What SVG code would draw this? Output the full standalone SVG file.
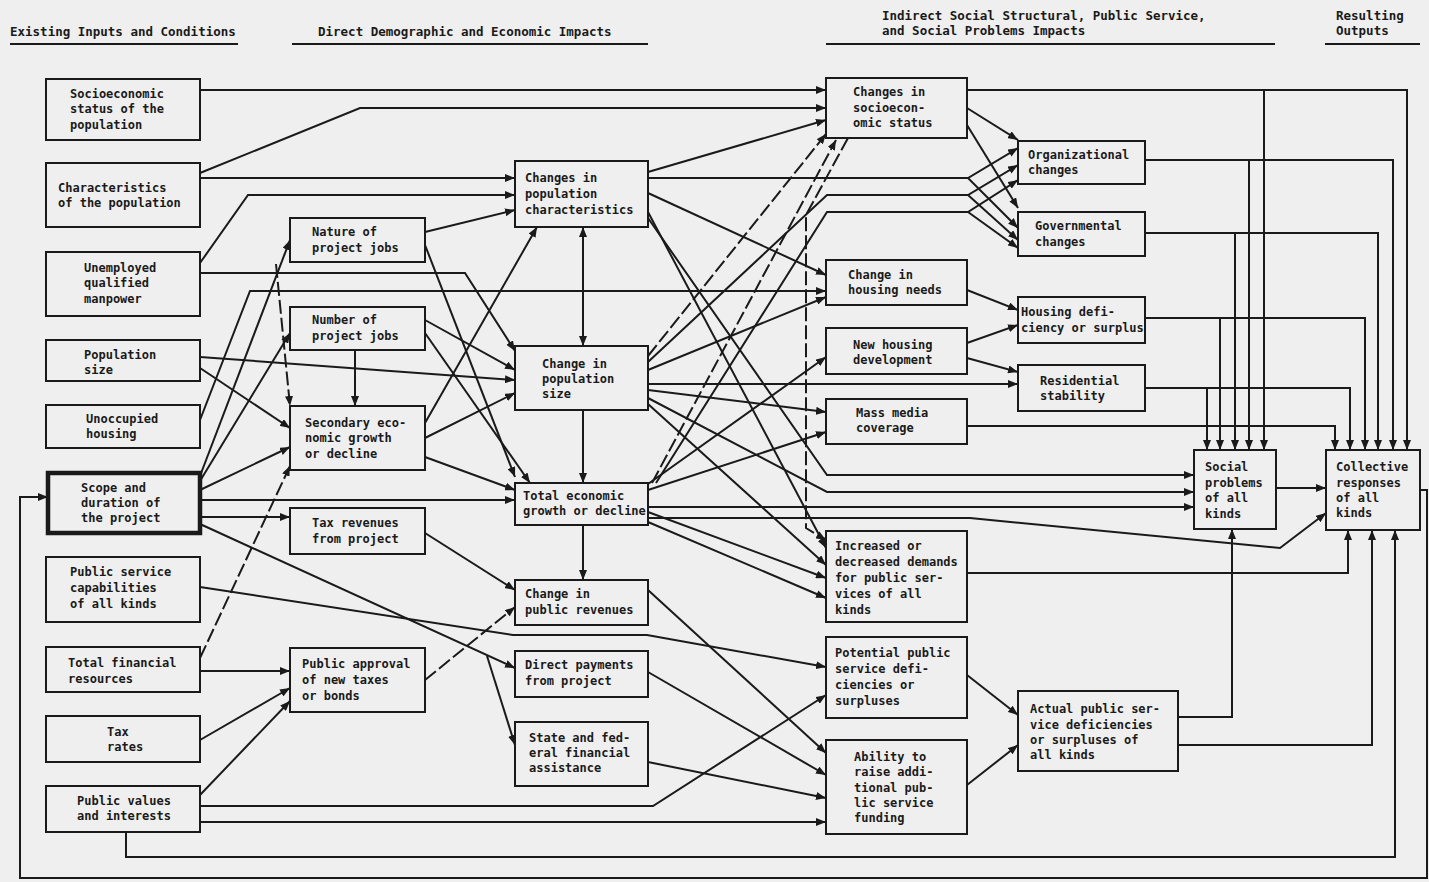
<svg xmlns="http://www.w3.org/2000/svg" width="1429" height="882" viewBox="0 0 1429 882">
<defs>
<marker id="a" viewBox="0 0 10 8" refX="10" refY="4" markerWidth="10" markerHeight="8" markerUnits="userSpaceOnUse" orient="auto-start-reverse"><path d="M0,0 L10,4 L0,8 z" fill="#1a1a1a"/></marker>
<style>
.bg{fill:#efefef}
.box rect{fill:#efefef;stroke:#1a1a1a;stroke-width:2}
.thick rect{stroke-width:4.5}
text{font-family:"DejaVu Sans Mono","Liberation Mono",monospace;font-weight:bold;font-size:12px;fill:#1a1a1a}
.hd{font-size:12.5px}
#connectors path{fill:none;stroke:#1a1a1a;stroke-width:2}
#connectors .ar{marker-end:url(#a)}
#connectors .bi{marker-end:url(#a);marker-start:url(#a)}
#connectors .d{stroke-dasharray:14 4}
.ul{stroke:#1a1a1a;stroke-width:2}
</style>
</defs>
<rect class="bg" x="0" y="0" width="1429" height="882"/>

<g id="headers">
<text class="hd" x="10" y="36">Existing Inputs and Conditions</text>
<line class="ul" x1="10" y1="44" x2="238" y2="44"/>
<text class="hd" x="318" y="36">Direct Demographic and Economic Impacts</text>
<line class="ul" x1="292" y1="44" x2="648" y2="44"/>
<text class="hd"><tspan x="882" y="20">Indirect Social Structural, Public Service,</tspan><tspan x="882" y="35">and Social Problems Impacts</tspan></text>
<line class="ul" x1="826" y1="44" x2="1275" y2="44"/>
<text class="hd"><tspan x="1336" y="20">Resulting</tspan><tspan x="1336" y="35">Outputs</tspan></text>
<line class="ul" x1="1325" y1="44" x2="1420" y2="44"/>
</g>

<g id="connectors">
<path class="ar" d="M200,90 H826"/>
<path class="ar" d="M200,173 L360,108 H826"/>
<path class="ar" d="M200,178 H515"/>
<path class="ar" d="M200,263 L248,195 H515"/>
<path class="ar" d="M200,273 H465 L515,351"/>
<path class="ar" d="M200,420 L250,291 H826"/>
<path class="ar" d="M200,357 L515,380"/>
<path class="ar" d="M200,368 L290,428"/>
<path class="ar" d="M200,476 L290,240"/>
<path class="ar" d="M200,481 L290,333"/>
<path class="ar" d="M200,490 L290,447"/>
<path class="ar" d="M200,500 H515"/>
<path class="ar" d="M200,517 H290"/>
<path class="ar" d="M200,524 L515,668"/>
<path class="ar" d="M487,656 L515,745"/>
<path class="ar" d="M200,587 L513,635 H647 L826,667"/>
<path class="ar" d="M200,671 H290"/>
<path class="ar d" d="M200,658 L290,466"/>
<path class="ar" d="M200,740 L290,688"/>
<path class="ar" d="M200,795 L290,701"/>
<path class="ar" d="M200,806 H653 L826,695"/>
<path class="ar" d="M200,822 H826"/>
<path class="ar" d="M126,832 V857 H1395 V530"/>
<path class="ar" d="M425,232 L515,210"/>
<path class="ar" d="M425,245 L515,477"/>
<path class="ar" d="M425,320 L515,370"/>
<path class="ar" d="M425,333 L530,483"/>
<path class="ar" d="M355,350 V406"/>
<path class="ar" d="M425,423 L537,227"/>
<path class="ar" d="M425,438 L515,393"/>
<path class="ar" d="M425,457 L515,490"/>
<path class="ar" d="M425,533 L515,590"/>
<path class="ar d" d="M425,680 L515,607"/>
<path class="ar d" d="M276,264 L290,406"/>
<path class="bi" d="M583,346 V227"/>
<path class="ar" d="M583,410 V483"/>
<path class="ar" d="M583,525 V580"/>
<path class="ar" d="M648,172 L826,120"/>
<path class="ar" d="M648,178 H968 L1018,148"/>
<path class="ar" d="M968,178 L1018,228"/>
<path class="ar" d="M648,193 L826,275"/>
<path class="ar" d="M648,212 L826,548"/>
<path class="ar" d="M648,218 L827,475 H1194"/>
<path class="ar" d="M648,398 L827,492 H1194"/>
<path class="ar" d="M648,507 H1194"/>
<path class="ar" d="M648,518 H970 L1280,548 L1326,513"/>
<path class="ar" d="M648,384 H1018"/>
<path class="ar" d="M648,370 L826,297"/>
<path class="ar" d="M648,390 L826,412"/>
<path class="ar" d="M648,362 L827,195 H968 L1018,165"/>
<path class="ar" d="M968,195 L1018,240"/>
<path class="ar d" d="M648,356 L826,134"/>
<path class="ar" d="M648,404 L826,565"/>
<path class="ar" d="M648,490 L826,432"/>
<path class="ar" d="M648,484 L826,357"/>
<path class="ar d" d="M652,483 L836,140"/>
<path class="ar" d="M656,483 L827,212 H968 L1018,180"/>
<path class="ar" d="M968,212 L1018,248"/>
<path class="ar d" d="M848,138 L806,215 V528 L826,540"/>
<path class="ar" d="M648,512 L826,578"/>
<path class="ar" d="M648,522 L826,598"/>
<path class="ar" d="M648,590 L826,753"/>
<path class="ar" d="M648,672 L826,775"/>
<path class="ar" d="M648,762 L826,798"/>
<path class="ar" d="M967,90 H1407 V450"/>
<path class="ar" d="M1264,90 V450"/>
<path class="ar" d="M967,108 L1018,140"/>
<path class="ar" d="M967,125 L1018,208"/>
<path class="ar" d="M1145,160 H1393 V450"/>
<path class="ar" d="M1249,160 V450"/>
<path class="ar" d="M1145,233 H1378 V450"/>
<path class="ar" d="M1235,233 V450"/>
<path class="ar" d="M1145,318 H1365 V450"/>
<path class="ar" d="M1220,318 V450"/>
<path class="ar" d="M1145,388 H1350 V450"/>
<path class="ar" d="M1207,388 V450"/>
<path class="ar" d="M967,426 H1335 V450"/>
<path class="ar" d="M1276,488 H1326"/>
<path class="ar" d="M967,343 L1018,325"/>
<path class="ar" d="M967,358 L1018,372"/>
<path class="ar" d="M967,290 L1018,310"/>
<path class="ar" d="M967,675 L1018,715"/>
<path class="ar" d="M967,785 L1018,745"/>
<path class="ar" d="M1178,717 H1232 V529"/>
<path class="ar" d="M1178,745 H1372 V530"/>
<path class="ar" d="M967,573 H1348 V530"/>
<path class="ar" d="M1420,490 H1427 V878 H20 V497 H48"/>
</g>

<g id="n-socio" class="box"><rect x="46" y="79" width="154" height="61"/><text><tspan x="70" y="98">Socioeconomic</tspan><tspan x="70" y="113">status of the</tspan><tspan x="70" y="129">population</tspan></text></g>
<g id="n-char" class="box"><rect x="46" y="163" width="154" height="64"/><text><tspan x="58" y="192">Characteristics</tspan><tspan x="58" y="207">of the population</tspan></text></g>
<g id="n-unemp" class="box"><rect x="46" y="252" width="154" height="64"/><text><tspan x="84" y="272">Unemployed</tspan><tspan x="84" y="287">qualified</tspan><tspan x="84" y="303">manpower</tspan></text></g>
<g id="n-popsize" class="box"><rect x="46" y="340" width="154" height="41"/><text><tspan x="84" y="359">Population</tspan><tspan x="84" y="374">size</tspan></text></g>
<g id="n-unocc" class="box"><rect x="46" y="405" width="154" height="43"/><text><tspan x="86" y="423">Unoccupied</tspan><tspan x="86" y="438">housing</tspan></text></g>
<g id="n-scope" class="box thick"><rect x="48" y="473" width="152" height="60"/><text><tspan x="81" y="492">Scope and</tspan><tspan x="81" y="507">duration of</tspan><tspan x="81" y="522">the project</tspan></text></g>
<g id="n-pscap" class="box"><rect x="46" y="557" width="154" height="65"/><text><tspan x="70" y="576">Public service</tspan><tspan x="70" y="592">capabilities</tspan><tspan x="70" y="608">of all kinds</tspan></text></g>
<g id="n-fin" class="box"><rect x="46" y="647" width="154" height="45"/><text><tspan x="68" y="667">Total financial</tspan><tspan x="68" y="683">resources</tspan></text></g>
<g id="n-tax" class="box"><rect x="46" y="716" width="154" height="46"/><text><tspan x="107" y="736">Tax</tspan><tspan x="107" y="751">rates</tspan></text></g>
<g id="n-values" class="box"><rect x="46" y="786" width="154" height="46"/><text><tspan x="77" y="805">Public values</tspan><tspan x="77" y="820">and interests</tspan></text></g>

<g id="n-nature" class="box"><rect x="290" y="218" width="135" height="44"/><text><tspan x="312" y="236">Nature of</tspan><tspan x="312" y="252">project jobs</tspan></text></g>
<g id="n-number" class="box"><rect x="290" y="307" width="135" height="43"/><text><tspan x="312" y="324">Number of</tspan><tspan x="312" y="340">project jobs</tspan></text></g>
<g id="n-secondary" class="box"><rect x="290" y="406" width="135" height="64"/><text><tspan x="305" y="427">Secondary eco-</tspan><tspan x="305" y="442">nomic growth</tspan><tspan x="305" y="458">or decline</tspan></text></g>
<g id="n-taxrev" class="box"><rect x="290" y="508" width="135" height="46"/><text><tspan x="312" y="527">Tax revenues</tspan><tspan x="312" y="543">from project</tspan></text></g>
<g id="n-approval" class="box"><rect x="290" y="648" width="135" height="64"/><text><tspan x="302" y="668">Public approval</tspan><tspan x="302" y="684">of new taxes</tspan><tspan x="302" y="700">or bonds</tspan></text></g>

<g id="n-popchar" class="box"><rect x="515" y="161" width="133" height="66"/><text><tspan x="525" y="182">Changes in</tspan><tspan x="525" y="198">population</tspan><tspan x="525" y="214">characteristics</tspan></text></g>
<g id="n-popchg" class="box"><rect x="515" y="346" width="133" height="64"/><text><tspan x="542" y="368">Change in</tspan><tspan x="542" y="383">population</tspan><tspan x="542" y="398">size</tspan></text></g>
<g id="n-econ" class="box"><rect x="515" y="483" width="133" height="42"/><text><tspan x="523" y="500">Total economic</tspan><tspan x="523" y="515">growth or decline</tspan></text></g>
<g id="n-pubrev" class="box"><rect x="515" y="580" width="133" height="45"/><text><tspan x="525" y="598">Change in</tspan><tspan x="525" y="614">public revenues</tspan></text></g>
<g id="n-direct" class="box"><rect x="515" y="651" width="133" height="46"/><text><tspan x="525" y="669">Direct payments</tspan><tspan x="525" y="685">from project</tspan></text></g>
<g id="n-state" class="box"><rect x="515" y="722" width="133" height="64"/><text><tspan x="529" y="742">State and fed-</tspan><tspan x="529" y="757">eral financial</tspan><tspan x="529" y="772">assistance</tspan></text></g>

<g id="n-sesstatus" class="box"><rect x="826" y="78" width="141" height="60"/><text><tspan x="853" y="96">Changes in</tspan><tspan x="853" y="112">socioecon-</tspan><tspan x="853" y="127">omic status</tspan></text></g>
<g id="n-housneeds" class="box"><rect x="826" y="260" width="141" height="45"/><text><tspan x="848" y="279">Change in</tspan><tspan x="848" y="294">housing needs</tspan></text></g>
<g id="n-newhous" class="box"><rect x="826" y="328" width="141" height="46"/><text><tspan x="853" y="349">New housing</tspan><tspan x="853" y="364">development</tspan></text></g>
<g id="n-media" class="box"><rect x="826" y="399" width="141" height="45"/><text><tspan x="856" y="417">Mass media</tspan><tspan x="856" y="432">coverage</tspan></text></g>
<g id="n-demands" class="box"><rect x="826" y="531" width="141" height="91"/><text><tspan x="835" y="550">Increased or</tspan><tspan x="835" y="566">decreased demands</tspan><tspan x="835" y="582">for public ser-</tspan><tspan x="835" y="598">vices of all</tspan><tspan x="835" y="614">kinds</tspan></text></g>
<g id="n-potential" class="box"><rect x="826" y="637" width="141" height="81"/><text><tspan x="835" y="657">Potential public</tspan><tspan x="835" y="673">service defi-</tspan><tspan x="835" y="689">ciencies or</tspan><tspan x="835" y="705">surpluses</tspan></text></g>
<g id="n-ability" class="box"><rect x="826" y="740" width="141" height="94"/><text><tspan x="854" y="761">Ability to</tspan><tspan x="854" y="776">raise addi-</tspan><tspan x="854" y="792">tional pub-</tspan><tspan x="854" y="807">lic service</tspan><tspan x="854" y="822">funding</tspan></text></g>

<g id="n-org" class="box"><rect x="1018" y="141" width="127" height="43"/><text><tspan x="1028" y="159">Organizational</tspan><tspan x="1028" y="174">changes</tspan></text></g>
<g id="n-gov" class="box"><rect x="1018" y="212" width="127" height="44"/><text><tspan x="1035" y="230">Governmental</tspan><tspan x="1035" y="246">changes</tspan></text></g>
<g id="n-housdef" class="box"><rect x="1018" y="297" width="127" height="46"/><text><tspan x="1021" y="316">Housing defi-</tspan><tspan x="1021" y="332">ciency or surplus</tspan></text></g>
<g id="n-resid" class="box"><rect x="1018" y="365" width="127" height="46"/><text><tspan x="1040" y="385">Residential</tspan><tspan x="1040" y="400">stability</tspan></text></g>
<g id="n-actual" class="box"><rect x="1018" y="691" width="160" height="80"/><text><tspan x="1030" y="713">Actual public ser-</tspan><tspan x="1030" y="729">vice deficiencies</tspan><tspan x="1030" y="744">or surpluses of</tspan><tspan x="1030" y="759">all kinds</tspan></text></g>
<g id="n-social" class="box"><rect x="1194" y="450" width="82" height="79"/><text><tspan x="1205" y="471">Social</tspan><tspan x="1205" y="487">problems</tspan><tspan x="1205" y="502">of all</tspan><tspan x="1205" y="518">kinds</tspan></text></g>
<g id="n-collective" class="box"><rect x="1326" y="450" width="94" height="80"/><text><tspan x="1336" y="471">Collective</tspan><tspan x="1336" y="487">responses</tspan><tspan x="1336" y="502">of all</tspan><tspan x="1336" y="517">kinds</tspan></text></g>
</svg>
